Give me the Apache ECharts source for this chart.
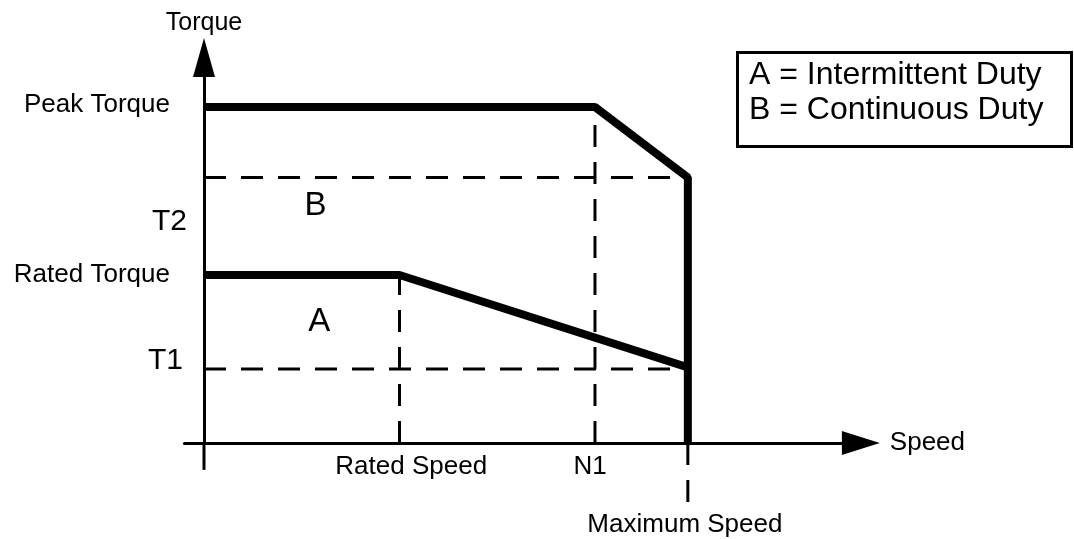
<!DOCTYPE html>
<html>
<head>
<meta charset="utf-8">
<script src="https://cdn.jsdelivr.net/npm/echarts@6/dist/echarts.min.js"></script>
<style>
  html, body { margin: 0; padding: 0; background: #fff; }
  #chart { width: 1074px; height: 539px; }
</style>
</head>
<body>
<div id="chart"></div>
<script>
// torque / speed envelope (speed units along x, torque units along y)
const peakCurve = [[0, 10], [4, 10], [4.95, 7.9], [4.95, 0]];
const ratedCurve = [[0, 5], [2, 5], [4.95, 2.25]];

// dashed guide lines
const guideT2 = [[0, 7.9], [4.95, 7.9]];
const guideT1 = [[0, 2.2], [4.95, 2.2]];
const guideRated = [[2, 0], [2, 5]];
const guideN1 = [[4, 0], [4, 10]];
const guideMax = [[4.95, 0], [4.95, -1.95]];

// short stub of the torque axis below the origin
const stubY = [[0, 0], [0, -0.8]];

// axis labels
const yLabelNames = ['Peak Torque', 'T2', 'Rated Torque', 'T1'];
const yLabelValues = [10.05, 6.58, 5, 2.44];
const xLabelNames = ['Rated Speed', 'N1'];
const xLabelValues = [2.12, 3.95];
const maxSpeedLabel = 'Maximum Speed';
const maxSpeedPoint = [4.92, -2.43];

// region letters
const regionNames = ['A', 'B'];
const regionPoints = [[1.18, 3.6], [1.14, 7.05]];

const legendLines = ['A = Intermittent Duty', 'B = Continuous Duty'];

document.addEventListener('DOMContentLoaded', function () {
    const chart = echarts.init(document.getElementById('chart'));
    const font = 'Liberation Sans, Arial, sans-serif';

    const solid = { color: '#000', width: 8, type: 'solid' };
    const dashed = { color: '#000', width: 3, type: [22, 15] };

    function guide(data, clip) {
        return {
            type: 'line',
            data: data,
            symbol: 'none',
            clip: clip !== false,
            lineStyle: dashed,
            z: 2,
            silent: true
        };
    }

    const option = {
        backgroundColor: '#fff',
        animation: false,
        textStyle: { fontFamily: font, color: '#000' },
        title: {
            text: legendLines.join('\n'),
            left: 737,
            top: 52,
            padding: [6, 28, 19, 12],
            borderColor: '#000',
            borderWidth: 3,
            textStyle: {
                fontFamily: font,
                fontSize: 32,
                fontWeight: 'normal',
                color: '#000',
                lineHeight: 35
            }
        },
        grid: {
            left: 184.45,
            right: 213.15,
            top: 57.6,
            bottom: 96,
            outerBoundsMode: 'none'
        },
        xAxis: {
            type: 'value',
            min: -0.2,
            max: 6.72,
            name: 'Speed',
            nameLocation: 'end',
            nameGap: 29,
            nameTextStyle: { fontFamily: font, fontSize: 26, color: '#000', verticalAlign: 'middle' },
            splitLine: { show: false },
            axisTick: { show: false },
            axisLine: {
                show: true,
                symbol: ['none', 'triangle'],
                symbolSize: [24, 38],
                lineStyle: { color: '#000', width: 3 }
            },
            axisLabel: {
                customValues: xLabelValues,
                margin: 9,
                formatter: function (v) {
                    return xLabelNames[xLabelValues.indexOf(v)];
                },
                fontFamily: font,
                fontSize: 26,
                lineHeight: 30,
                color: '#000'
            }
        },
        yAxis: {
            type: 'value',
            min: 0,
            max: 11.47,
            name: 'Torque',
            nameLocation: 'end',
            nameGap: 19,
            nameTextStyle: { fontFamily: font, fontSize: 25, color: '#000', lineHeight: 30 },
            splitLine: { show: false },
            axisTick: { show: false },
            axisLine: {
                show: true,
                onZero: true,
                symbol: ['none', 'triangle'],
                symbolSize: [22, 39],
                lineStyle: { color: '#000', width: 3 }
            },
            axisLabel: {
                customValues: yLabelValues,
                margin: -2.5,
                formatter: function (v) {
                    const name = yLabelNames[yLabelValues.indexOf(v)];
                    if (name === 'T1') return '{t1|' + name + '}';
                    if (name === 'T2') return '{t2|' + name + '}';
                    return '{w|' + name + '}';
                },
                rich: {
                    w: { fontFamily: font, fontSize: 26, color: '#000', padding: [0, 17, 0, 0] },
                    t1: { fontFamily: font, fontSize: 30, color: '#000', padding: [0, 4, 0, 0] },
                    t2: { fontFamily: font, fontSize: 30, color: '#000' }
                }
            }
        },
        series: [
            {
                type: 'line',
                data: stubY,
                symbol: 'none',
                clip: false,
                lineStyle: { color: '#000', width: 3 },
                z: 2,
                silent: true
            },
            guide(guideT2),
            guide(guideT1),
            guide(guideRated),
            guide(guideN1),
            guide(guideMax, false),
            {
                name: 'Peak',
                type: 'line',
                data: peakCurve,
                symbol: 'none',
                lineStyle: solid,
                z: 3
            },
            {
                name: 'Rated',
                type: 'line',
                data: ratedCurve,
                symbol: 'none',
                lineStyle: solid,
                z: 3
            },
            {
                name: 'Regions',
                type: 'scatter',
                symbolSize: 0,
                itemStyle: { opacity: 1 },
                data: regionNames.map(function (n, i) {
                    return { name: n, value: regionPoints[i] };
                }),
                label: {
                    show: true,
                    position: 'inside',
                    formatter: '{b}',
                    fontFamily: font,
                    fontSize: 33,
                    color: '#000'
                },
                z: 4
            },
            {
                name: 'MaxSpeed',
                type: 'scatter',
                symbolSize: 0,
                clip: false,
                itemStyle: { opacity: 1 },
                data: [{ name: maxSpeedLabel, value: maxSpeedPoint }],
                label: {
                    show: true,
                    position: 'inside',
                    formatter: '{b}',
                    fontFamily: font,
                    fontSize: 26,
                    color: '#000'
                },
                z: 4
            }
        ]
    };

    chart.setOption(option);

    window.addEventListener('resize', function () {
        chart.resize();
    });
});
</script>
</body>
</html>
